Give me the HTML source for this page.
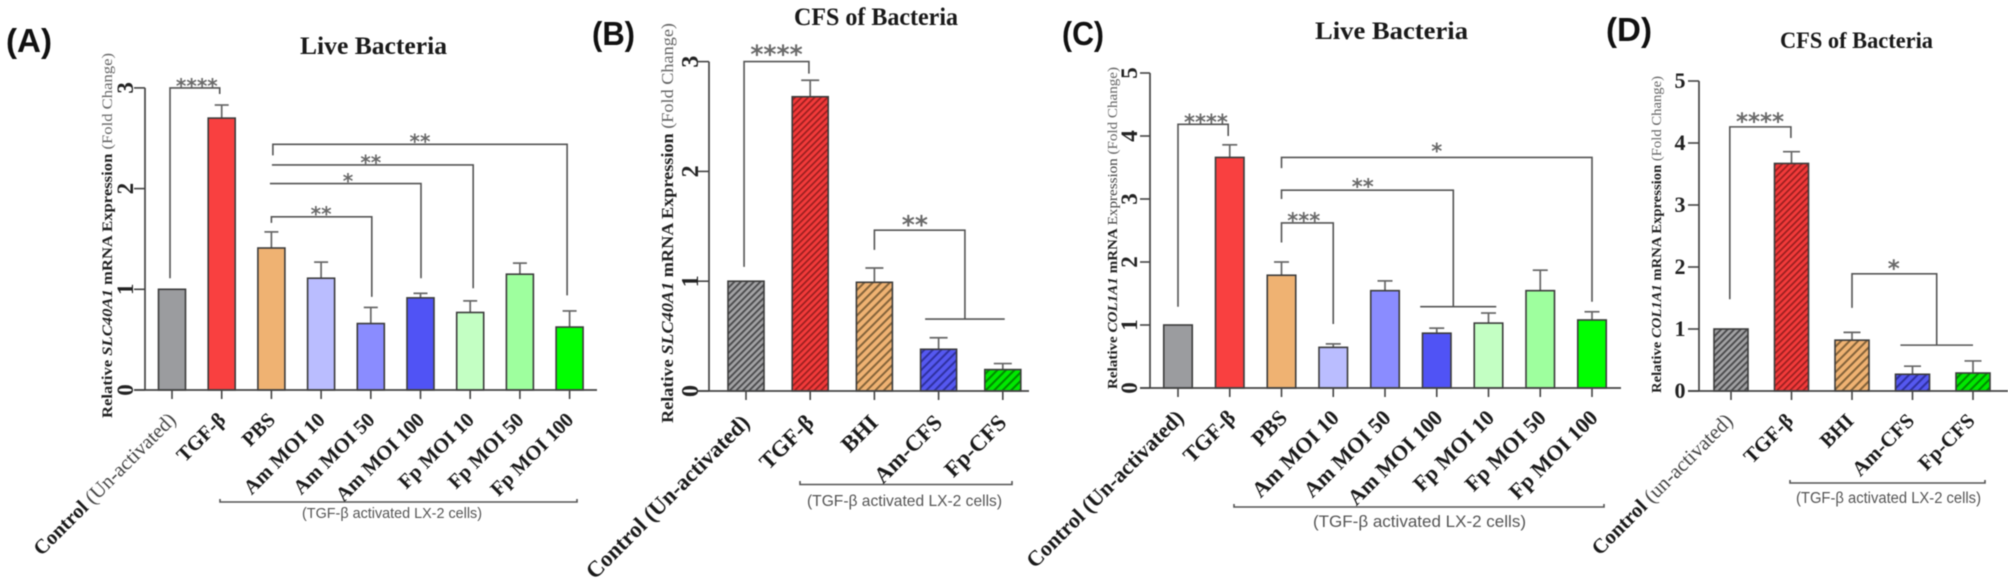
<!DOCTYPE html>
<html lang="en">
<head>
<meta charset="utf-8">
<title>SLC40A1 and COL1A1 expression in LX-2 cells</title>
<style>
html,body{margin:0;padding:0;background:#fff;}
body{width:2008px;height:582px;overflow:hidden;}
svg{display:block;filter:blur(.55px);}
text{font-family:"Liberation Serif","DejaVu Serif",serif;}
.panel-letter{font-family:"Liberation Sans",sans-serif;font-weight:700;font-size:33px;fill:#111;}
.panel-title{font-weight:700;fill:#1a1a1a;}
.y-title{font-weight:700;fill:#222;}
.y-title .ital{font-style:italic;}
.y-title .light{font-weight:400;fill:#666;}
.y-title .mid{font-weight:400;fill:#444;}
.caption{font-family:"Liberation Sans",sans-serif;fill:#555;}
.group-line{fill:none;stroke:#555;stroke-width:1.6;}
.y-tick-label{font-weight:700;fill:#222;text-anchor:middle;}
.x-label{font-weight:700;fill:#1a1a1a;text-anchor:end;}
.x-label .reg{font-weight:400;fill:#444;}
.stars{font-family:"DejaVu Sans",sans-serif;font-weight:700;fill:#6a6a6a;text-anchor:middle;}
</style>
</head>
<body>
<svg id="figure" width="2008" height="582" viewBox="0 0 2008 582" xmlns="http://www.w3.org/2000/svg">
  <defs>
    <pattern id="hatch-grey" width="4.6" height="4.6" patternUnits="userSpaceOnUse" patternTransform="rotate(45)"><rect width="4.6" height="4.6" fill="#a2a2a4"/><rect width="1.9" height="4.6" fill="#4c4c4e"/></pattern>
    <pattern id="hatch-red" width="4.6" height="4.6" patternUnits="userSpaceOnUse" patternTransform="rotate(45)"><rect width="4.6" height="4.6" fill="#f23a3a"/><rect width="1.7" height="4.6" fill="#9a1f1f"/></pattern>
    <pattern id="hatch-tan" width="6" height="6" patternUnits="userSpaceOnUse" patternTransform="rotate(45)"><rect width="6" height="6" fill="#efb272"/><rect width="2" height="6" fill="#84633a"/></pattern>
    <pattern id="hatch-blue" width="6" height="6" patternUnits="userSpaceOnUse" patternTransform="rotate(45)"><rect width="6" height="6" fill="#5558f0"/><rect width="2" height="6" fill="#2f31a0"/></pattern>
    <pattern id="hatch-green" width="6" height="6" patternUnits="userSpaceOnUse" patternTransform="rotate(45)"><rect width="6" height="6" fill="#00e800"/><rect width="2" height="6" fill="#008a00"/></pattern>
  </defs>
  <rect width="2008" height="582" fill="#fff"/>

  <text class="panel-letter" x="6" y="52" textLength="46" lengthAdjust="spacingAndGlyphs">(A)</text>
  <text class="panel-letter" x="592" y="45" textLength="43" lengthAdjust="spacingAndGlyphs">(B)</text>
  <text class="panel-letter" x="1062" y="45" textLength="42" lengthAdjust="spacingAndGlyphs">(C)</text>
  <text class="panel-letter" x="1606" y="41" textLength="46" lengthAdjust="spacingAndGlyphs">(D)</text>

  <text class="panel-title" x="300" y="54" font-size="25" textLength="147" lengthAdjust="spacingAndGlyphs">Live Bacteria</text>
  <text class="panel-title" x="794" y="25" font-size="25" textLength="164" lengthAdjust="spacingAndGlyphs">CFS of Bacteria</text>
  <text class="panel-title" x="1315" y="39" font-size="25" textLength="153" lengthAdjust="spacingAndGlyphs">Live Bacteria</text>
  <text class="panel-title" x="1780" y="48" font-size="23" textLength="153" lengthAdjust="spacingAndGlyphs">CFS of Bacteria</text>

  <text class="y-title" transform="translate(112,418) rotate(-90)" font-size="15" textLength="365" lengthAdjust="spacingAndGlyphs">Relative <tspan class="ital">SLC40A1</tspan> mRNA Expression <tspan class="light">(Fold Change)</tspan></text>
  <text class="y-title" transform="translate(673,423) rotate(-90)" font-size="17" textLength="400" lengthAdjust="spacingAndGlyphs">Relative <tspan class="ital">SLC40A1</tspan> mRNA Expression <tspan class="light">(Fold Change)</tspan></text>
  <text class="y-title" transform="translate(1117,389) rotate(-90)" font-size="14" textLength="322" lengthAdjust="spacingAndGlyphs">Relative <tspan class="ital">COL1A1</tspan> mRNA <tspan class="mid">Expression</tspan> <tspan class="light">(Fold Change)</tspan></text>
  <text class="y-title" transform="translate(1661,393) rotate(-90)" font-size="14" textLength="317" lengthAdjust="spacingAndGlyphs">Relative <tspan class="ital">COL1A1</tspan> mRNA Expression <tspan class="light">(Fold Change)</tspan></text>

  <g id="panel-a"></g>
  <g id="panel-b"></g>
  <g id="panel-c"></g>
  <g id="panel-d"></g>

  <path class="group-line" d="M220,499 V502 H577 V499"/>
  <path class="group-line" d="M800,481 V484.5 H1012 V481"/>
  <path class="group-line" d="M1234,504 V507 H1604 V504"/>
  <path class="group-line" d="M1790,480 V483 H1985 V480"/>

  <text class="caption" x="302" y="518" font-size="15" textLength="180" lengthAdjust="spacingAndGlyphs">(TGF-β activated LX-2 cells)</text>
  <text class="caption" x="807" y="506" font-size="16" textLength="195" lengthAdjust="spacingAndGlyphs">(TGF-β activated LX-2 cells)</text>
  <text class="caption" x="1313" y="527" font-size="17" textLength="213" lengthAdjust="spacingAndGlyphs">(TGF-β activated LX-2 cells)</text>
  <text class="caption" x="1796" y="503" font-size="15.5" textLength="185" lengthAdjust="spacingAndGlyphs">(TGF-β activated LX-2 cells)</text>
</svg>

<script>
// ---- Data: categories, means, upper error-bar values, axis ticks ----
const categoriesLive = ['Control (Un-activated)', 'TGF-β', 'PBS', 'Am MOI 10', 'Am MOI 50', 'Am MOI 100', 'Fp MOI 10', 'Fp MOI 50', 'Fp MOI 100'];
const categoriesCfsB = ['Control (Un-activated)', 'TGF-β', 'BHI', 'Am-CFS', 'Fp-CFS'];
const categoriesCfsD = ['Control (un-activated)', 'TGF-β', 'BHI', 'Am-CFS', 'Fp-CFS'];

const valuesA = [1, 2.70, 1.41, 1.11, 0.66, 0.915, 0.77, 1.15, 0.625];
const errorTopsA = [1, 2.83, 1.57, 1.27, 0.82, 0.96, 0.885, 1.26, 0.785];
const ticksA = [0, 1, 2, 3];

const valuesB = [1, 2.68, 0.99, 0.38, 0.195];
const errorTopsB = [1, 2.83, 1.12, 0.485, 0.25];
const ticksB = [0, 1, 2, 3];

const valuesC = [1, 3.66, 1.79, 0.645, 1.545, 0.87, 1.03, 1.545, 1.08];
const errorTopsC = [1, 3.86, 2.0, 0.70, 1.70, 0.95, 1.19, 1.87, 1.21];
const ticksC = [0, 1, 2, 3, 4, 5];

const valuesD = [1, 3.67, 0.82, 0.27, 0.29];
const errorTopsD = [1, 3.86, 0.945, 0.40, 0.485];
const ticksD = [0, 1, 2, 3, 4, 5];

// Significance annotations in data units:
// [fromCategory, toCategory, level, leftEnd, rightEnd, starCategory, starLevel, stars]
const bracketsA = [
  [-0.04, 0.96, 3.0, 1.11, 2.94, 0.5, 3.05, '****'],
  [2, 4.02, 1.72, 1.66, 0.925, 3.0, 1.78, '**'],
  [1.97, 5.01, 2.05, 2.05, 1.11, 3.54, 2.105, '*'],
  [2.01, 6.06, 2.235, 2.235, 1.01, 4.0, 2.29, '**'],
  [2.03, 7.95, 2.44, 2.33, 0.94, 4.99, 2.5, '**']
];
const bracketsB = [
  [-0.03, 0.98, 3.0, 1.13, 2.89, 0.475, 3.10, '****'],
  [2, 3.41, 1.465, 1.285, 0.655, 2.63, 1.55, '**']
];
const bracketsC = [
  [0, 0.97, 4.185, 1.29, 4.0, 0.54, 4.27, '****'],
  [2, 3, 2.62, 2.31, 1.015, 2.43, 2.71, '***'],
  [2, 5.32, 3.14, 3.0, 1.29, 3.57, 3.25, '**'],
  [2, 8, 3.66, 3.49, 1.37, 5.0, 3.81, '*']
];
const bracketsD = [
  [-0.02, 0.99, 4.26, 1.48, 4.08, 0.48, 4.4, '****'],
  [2, 3.4, 1.89, 1.34, 0.74, 2.69, 2.03, '*']
];
// Cross-bars under bracket legs: [fromCategory, toCategory, level]
const crossbarsB = [[2.79, 4.03, 0.655]];
const crossbarsC = [[4.68, 6.15, 1.29]];
const crossbarsD = [[2.8, 4, 0.74]];

const solidFills = ['#9b9c9f', '#f94040', '#efb272', '#babdff', '#8a8cff', '#5053f5', '#c3ffc3', '#9eff9e', '#00ff00'];
const hatchFills = ['url(#hatch-grey)', 'url(#hatch-red)', 'url(#hatch-tan)', 'url(#hatch-blue)', 'url(#hatch-green)'];

// ---- Layout (pixels) ----
const layoutA = {id: 'a', axisX: 145, axisLeft: 134, axisRight: 597, y0: 390, unit: 100.7, first: 172, step: 49.7, barW: 27, capW: 14, tickX: 133, tickSize: 23, rotated: true, labelDx: 5, labelY: 421, labelSize: 20.4, boldParen: false, starSize: 20};
const layoutB = {id: 'b', axisX: 709, axisLeft: 698, axisRight: 1029, y0: 391, unit: 109.8, first: 746, step: 64.2, barW: 36, capW: 18, tickX: 698, tickSize: 24, rotated: true, labelDx: 5, labelY: 424, labelSize: 22.7, boldParen: true, starSize: 25};
const layoutC = {id: 'c', axisX: 1150, axisLeft: 1140, axisRight: 1621, y0: 388, unit: 63, first: 1178, step: 51.75, barW: 28.5, capW: 15, tickX: 1137, tickSize: 23, rotated: true, labelDx: 7, labelY: 419, labelSize: 21.8, boldParen: true, starSize: 21};
const layoutD = {id: 'd', axisX: 1699, axisLeft: 1688, axisRight: 2008, y0: 391, unit: 62, first: 1731, step: 60.5, barW: 34, capW: 17, tickX: 1680, tickSize: 22, rotated: false, labelDx: 3, labelY: 422, labelSize: 20.7, boldParen: false, starSize: 23};

const NS = 'http://www.w3.org/2000/svg';
const INK = '#444';

function make(parent, tag, attrs) {
  const el = document.createElementNS(NS, tag);
  for (const k in attrs) el.setAttribute(k, attrs[k]);
  parent.appendChild(el);
  return el;
}

function drawPanel(L, categories, values, errorTops, ticks, brackets, crossbars, fills) {
  const root = document.getElementById('panel-' + L.id);
  const xScale = i => L.first + L.step * i;
  const yScale = v => L.y0 - L.unit * v;
  const prefix = 'panel-' + L.id + '-';

  values.forEach((v, i) => {
    const x = xScale(i);
    const top = yScale(v);
    const errTop = yScale(errorTops[i]);
    if (errorTops[i] > v) {
      const stem = make(root, 'line', {x1: x, x2: x, y1: top, y2: errTop, stroke: '#666', 'stroke-width': 1.7});
      
      
      const cap = make(root, 'line', {x1: x - L.capW / 2, x2: x + L.capW / 2, y1: errTop, y2: errTop, stroke: '#666', 'stroke-width': 1.7});
      
      
    }
    const bar = make(root, 'rect', {x: x - L.barW / 2, y: top, width: L.barW, height: L.y0 - top, fill: fills[i], stroke: '#3c3c3c', 'stroke-width': 1.6});
    
    

    const tick = make(root, 'line', {x1: x, x2: x, y1: L.y0, y2: L.y0 + 9, stroke: INK, 'stroke-width': 1.6});
    
    

    const ax = x + L.labelDx;
    const label = make(root, 'text', {class: 'x-label', 'font-size': L.labelSize, transform: 'translate(' + ax + ',' + L.labelY + ') rotate(-45)'});
    
    
    const parts = categories[i].split(' (');
    if (parts.length > 1) {
      const a = make(label, 'tspan', {});
      a.textContent = parts[0] + ' ';
      const b = make(label, 'tspan', L.boldParen ? {} : {class: 'reg'});
      b.textContent = '(' + parts[1];
    } else {
      label.textContent = categories[i];
    }
  });

  const yAxis = make(root, 'line', {x1: L.axisX, x2: L.axisX, y1: yScale(ticks[ticks.length - 1]), y2: L.y0, stroke: INK, 'stroke-width': 1.7});
  
  
  const xAxis = make(root, 'line', {x1: L.axisLeft, x2: L.axisRight, y1: L.y0, y2: L.y0, stroke: INK, 'stroke-width': 1.7});
  
  

  ticks.forEach(t => {
    const y = yScale(t);
    const tick = make(root, 'line', {x1: L.axisLeft, x2: L.axisX, y1: y, y2: y, stroke: INK, 'stroke-width': 1.6});
    
    
    const attrs = L.rotated
      ? {class: 'y-tick-label', 'font-size': L.tickSize, transform: 'translate(' + L.tickX + ',' + y + ') rotate(-90)'}
      : {class: 'y-tick-label', 'font-size': L.tickSize, x: L.tickX, y: y + 7};
    const txt = make(root, 'text', attrs);
    
    
    txt.textContent = String(t);
  });

  brackets.forEach((b, k) => {
    const d = 'M' + xScale(b[0]) + ',' + yScale(b[3]) + ' V' + yScale(b[2]) + ' H' + xScale(b[1]) + ' V' + yScale(b[4]);
    const path = make(root, 'path', {d: d, fill: 'none', stroke: '#555', 'stroke-width': 1.6});
    
    
    const star = make(root, 'text', {class: 'stars', 'font-size': L.starSize, x: xScale(b[5]), y: yScale(b[6]) + L.starSize * 0.5});
    
    
    star.textContent = b[7];
  });

  crossbars.forEach((c, k) => {
    const bar = make(root, 'line', {x1: xScale(c[0]), x2: xScale(c[1]), y1: yScale(c[2]), y2: yScale(c[2]), stroke: '#555', 'stroke-width': 1.6});
    
    
  });
}

drawPanel(layoutA, categoriesLive, valuesA, errorTopsA, ticksA, bracketsA, [], solidFills);
drawPanel(layoutB, categoriesCfsB, valuesB, errorTopsB, ticksB, bracketsB, crossbarsB, hatchFills);
drawPanel(layoutC, categoriesLive, valuesC, errorTopsC, ticksC, bracketsC, crossbarsC, solidFills);
drawPanel(layoutD, categoriesCfsD, valuesD, errorTopsD, ticksD, bracketsD, crossbarsD, hatchFills);
</script>
</body>
</html>
